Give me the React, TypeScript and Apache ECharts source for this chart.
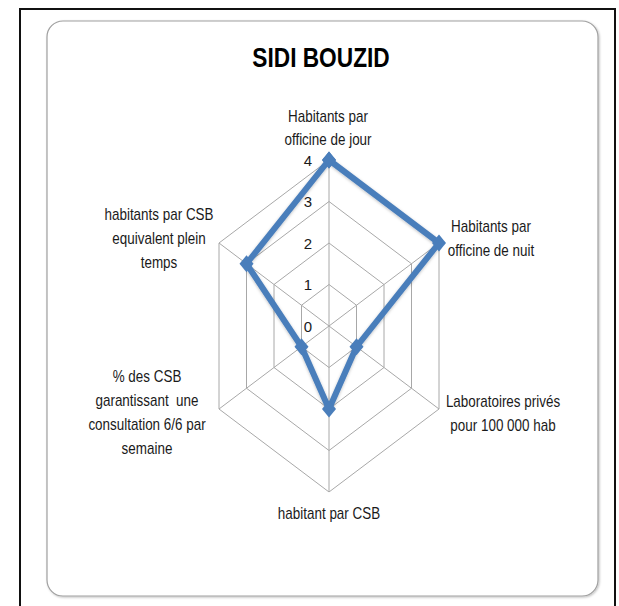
import React, { useEffect, useRef } from 'react';
import * as echarts from 'echarts';

const chartTitle = 'SIDI BOUZID';
const indicatorNames = [
  'Habitants par\nofficine de jour',
  'Habitants par\nofficine de nuit',
  'Laboratoires privés\npour 100 000 hab',
  'habitant par CSB',
  '% des CSB\ngarantissant  une\nconsultation 6/6 par\nsemaine',
  'habitants par CSB\nequivalent plein\ntemps',
];
const seriesValues = [4, 4, 1, 2, 1, 3];
const ringLevels = [1, 2, 3, 4];
const maxValue = 4;
const tickValues = [0, 1, 2, 3, 4];

const FONT = "'Liberation Sans', Arial, sans-serif";
const BLUE = '#4a7ebb';
const GRIDC = '#a8a8a8';
const NARROW = 0.84;

// angle of each indicator (top first, clockwise)
const angleOf = (i: number) => ((90 - (360 / indicatorNames.length) * i) * Math.PI) / 180;
const toXY = (v: number, i: number) => [v * Math.cos(angleOf(i)), v * Math.sin(angleOf(i))];
const closed = (vals: number[]) => {
  const pts = vals.map((v, i) => toXY(v, i));
  pts.push(pts[0]);
  return pts;
};

// label block placement (center of block, px) – layout only
const labelLayout = [
  { x: 328, y: 128, lh: 23 },
  { x: 491, y: 239, lh: 24 },
  { x: 503, y: 414, lh: 24 },
  { x: 329, y: 514, lh: 24 },
  { x: 147, y: 413, lh: 24 },
  { x: 159, y: 239, lh: 24 },
];

export default function App() {
  const ref = useRef<HTMLDivElement>(null);
  useEffect(() => {
    if (!ref.current) return;
    const chart = echarts.init(ref.current, undefined, { renderer: 'svg' });
    const xMax = maxValue * Math.cos(Math.PI / 6);

    const ringSeries = ringLevels.map((lv) => ({
      type: 'line',
      data: closed(indicatorNames.map(() => lv)),
      symbol: 'none',
      silent: true,
      z: 1,
      lineStyle: { color: GRIDC, width: 1 },
    }));
    const spokeSeries = indicatorNames.map((_, i) => ({
      type: 'line',
      data: [[0, 0], toXY(maxValue, i)],
      symbol: 'none',
      silent: true,
      z: 1,
      lineStyle: { color: GRIDC, width: 1 },
    }));

    chart.setOption({
      animation: false,
      backgroundColor: '#ffffff',
      grid: { left: 219, top: 160, width: 220, height: 332, containLabel: false, outerBoundsMode: 'none' },
      xAxis: {
        type: 'value',
        min: -xMax,
        max: xMax,
        axisLine: { show: false },
        axisTick: { show: false },
        axisLabel: { show: false },
        splitLine: { show: false },
      },
      yAxis: {
        type: 'value',
        min: -maxValue,
        max: maxValue,
        interval: 1,
        offset: -110,
        axisLine: { show: false, onZero: false },
        axisTick: { show: false },
        splitLine: { show: false },
        axisLabel: {
          margin: 17,
          fontSize: 15,
          fontFamily: FONT,
          color: '#1a1a1a',
          formatter: (v: number) => (tickValues.includes(v) ? String(v) : ''),
        },
      },
      graphic: [
        {
          type: 'rect',
          z: -20,
          shape: { x: 20, y: 9, width: 595, height: 620 },
          style: { fill: '#ffffff', stroke: '#111111', lineWidth: 2 },
          silent: true,
        },
        {
          type: 'rect',
          z: -10,
          shape: { x: 47, y: 21, width: 551, height: 575, r: 16 },
          style: {
            fill: '#ffffff',
            stroke: '#a0a0a0',
            lineWidth: 1.2,
            shadowBlur: 2,
            shadowOffsetX: 1,
            shadowOffsetY: 1,
            shadowColor: 'rgba(0,0,0,0.25)',
          },
          silent: true,
        },
        {
          type: 'text',
          x: 321,
          y: 57,
          scaleX: 0.81,
          style: {
            text: chartTitle,
            align: 'center',
            verticalAlign: 'middle',
            font: `bold 28px ${FONT}`,
            fill: '#000000',
          },
        },
        ...indicatorNames.map((name, i) => ({
          type: 'text',
          x: labelLayout[i].x,
          y: labelLayout[i].y,
          scaleX: NARROW,
          style: {
            text: name,
            align: 'center',
            verticalAlign: 'middle',
            font: `16px ${FONT}`,
            lineHeight: labelLayout[i].lh,
            fill: '#1a1a1a',
          },
        })),
      ],
      series: [
        ...ringSeries,
        ...spokeSeries,
        {
          type: 'line',
          data: closed(seriesValues),
          symbol: 'diamond',
          symbolSize: [14, 17],
          z: 5,
          itemStyle: { color: BLUE },
          lineStyle: {
            color: BLUE,
            width: 6,
            shadowBlur: 3,
            shadowColor: 'rgba(0,0,0,0.25)',
            shadowOffsetY: 1,
          },
        },
      ],
    });
    return () => chart.dispose();
  }, []);
  return (
    <div
      ref={ref}
      style={{ position: 'fixed', left: 0, top: 0, width: 619, height: 606 }}
    />
  );
}
